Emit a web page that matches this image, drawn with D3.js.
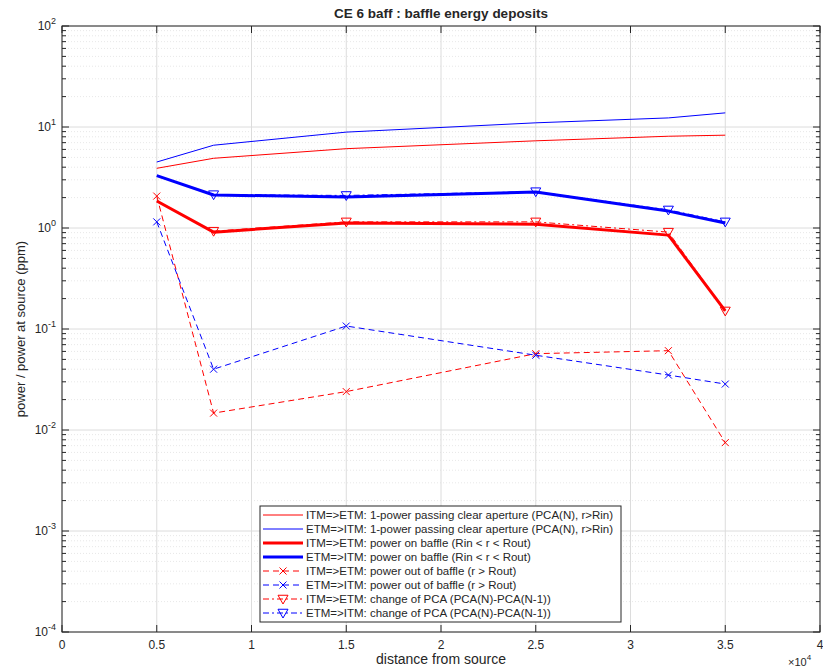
<!DOCTYPE html>
<html>
<head>
<meta charset="utf-8">
<script src="https://cdn.jsdelivr.net/npm/d3@7"></script>
<style>
  body { margin: 0; background: #fff; }
  text { font-family: "Liberation Sans", Arial, Helvetica, sans-serif; fill: #262626; }
</style>
</head>
<body>
<svg id="chart" width="823" height="668"></svg>
<script>
// distances (m) and per-series values (ppm)
const distance = [ 5000, 8000, 15000, 25000, 32000, 35000 ];
const distanceDelta = [ 8000, 15000, 25000, 32000, 35000 ];

const itmPca = [ 3.9, 4.9, 6.1, 7.3, 8.1, 8.3 ];
const etmPca = [ 4.5, 6.6, 8.9, 11.0, 12.3, 13.8 ];
const itmOn = [ 1.85, 0.91, 1.12, 1.09, 0.85, 0.151 ];
const etmOn = [ 3.3, 2.12, 2.03, 2.27, 1.47, 1.12 ];
const itmOut = [ 2.07, 0.0147, 0.024, 0.057, 0.061, 0.0075 ];
const etmOut = [ 1.15, 0.040, 0.107, 0.055, 0.035, 0.0285 ];
const itmDelta = [ 0.93, 1.15, 1.15, 0.91, 0.151 ];
const etmDelta = [ 2.14, 2.1, 2.29, 1.51, 1.15 ];

const xTicks = [ 0, 5000, 10000, 15000, 20000, 25000, 30000, 35000, 40000 ];
const yTicks = [ 1e-4, 1e-3, 1e-2, 1e-1, 1, 10, 100 ];

const labels = [
  "ITM=>ETM: 1-power passing clear aperture (PCA(N), r>Rin)",
  "ETM=>ITM: 1-power passing clear aperture (PCA(N), r>Rin)",
  "ITM=>ETM: power on baffle (Rin < r < Rout)",
  "ETM=>ITM: power on baffle (Rin < r < Rout)",
  "ITM=>ETM: power out of baffle (r > Rout)",
  "ETM=>ITM: power out of baffle (r > Rout)",
  "ITM=>ETM: change of PCA (PCA(N)-PCA(N-1))",
  "ETM=>ITM: change of PCA (PCA(N)-PCA(N-1))",
];

const RED = "#ff0000";
const BLUE = "#0000ff";

const series = [
  { xs: distance, ys: itmPca, color: RED, width: 1, dash: null, marker: null },
  { xs: distance, ys: etmPca, color: BLUE, width: 1, dash: null, marker: null },
  { xs: distance, ys: itmOn, color: RED, width: 3, dash: null, marker: null },
  { xs: distance, ys: etmOn, color: BLUE, width: 3, dash: null, marker: null },
  { xs: distance, ys: itmOut, color: RED, width: 1, dash: "6,4", marker: "x" },
  { xs: distance, ys: etmOut, color: BLUE, width: 1, dash: "6,4", marker: "x" },
  { xs: distanceDelta, ys: itmDelta, color: RED, width: 1, dash: "6,3,2,3", marker: "v" },
  { xs: distanceDelta, ys: etmDelta, color: BLUE, width: 1, dash: "6,3,2,3", marker: "v" },
];

const svg = d3.select( "#chart" );
const MARGINS = { top: 26, right: 3, bottom: 36, left: 62 };
const WIDTH = 823;
const HEIGHT = 668;
const x0 = MARGINS.left, x1 = WIDTH - MARGINS.right;
const y0 = HEIGHT - MARGINS.bottom, y1 = MARGINS.top;

const xScale = d3.scaleLinear().domain( [ 0, 40000 ] ).range( [ x0, x1 ] );
const yScale = d3.scaleLog().domain( [ 1e-4, 1e2 ] ).range( [ y0, y1 ] );

// minor y values
const yMinor = [];
for ( let e = -4; e < 2; e++ ) {
  for ( let m = 2; m <= 9; m++ ) yMinor.push( m * Math.pow( 10, e ) );
}

const grid = svg.append( "g" );
grid.selectAll( ".ymin" ).data( yMinor ).enter().append( "line" )
  .attr( "x1", x0 ).attr( "x2", x1 )
  .attr( "y1", d => yScale( d ) ).attr( "y2", d => yScale( d ) )
  .attr( "stroke", "#d6d6d6" ).attr( "stroke-width", 0.6 ).attr( "stroke-dasharray", "1,2" );
grid.selectAll( ".ymaj" ).data( yTicks ).enter().append( "line" )
  .attr( "x1", x0 ).attr( "x2", x1 )
  .attr( "y1", d => yScale( d ) ).attr( "y2", d => yScale( d ) )
  .attr( "stroke", "#dcdcdc" ).attr( "stroke-width", 1 );
grid.selectAll( ".xmaj" ).data( xTicks ).enter().append( "line" )
  .attr( "x1", d => xScale( d ) ).attr( "x2", d => xScale( d ) )
  .attr( "y1", y0 ).attr( "y2", y1 )
  .attr( "stroke", "#dcdcdc" ).attr( "stroke-width", 1 );

// lines
const lineFunc = d3.line().x( d => xScale( d[0] ) ).y( d => yScale( d[1] ) );
const plot = svg.append( "g" );
series.forEach( s => {
  const pts = s.xs.map( ( x, i ) => [ x, s.ys[i] ] );
  plot.append( "path" )
    .attr( "d", lineFunc( pts ) )
    .attr( "fill", "none" )
    .attr( "stroke", s.color )
    .attr( "stroke-width", s.width )
    .attr( "stroke-dasharray", s.dash )
    .attr( "stroke-linejoin", "round" );
  if ( s.marker ) {
    pts.forEach( p => drawMarker( plot, s.marker, xScale( p[0] ), yScale( p[1] ), s.color ) );
  }
} );

function drawMarker( g, type, cx, cy, color ) {
  if ( type === "x" ) {
    const r = 3.5;
    g.append( "path" )
      .attr( "d", `M${cx - r},${cy - r}L${cx + r},${cy + r}M${cx - r},${cy + r}L${cx + r},${cy - r}` )
      .attr( "stroke", color ).attr( "stroke-width", 1 ).attr( "fill", "none" );
  } else {
    const r = 5;
    g.append( "path" )
      .attr( "d", `M${cx - r},${cy - r * 0.75}L${cx + r},${cy - r * 0.75}L${cx},${cy + r}Z` )
      .attr( "stroke", color ).attr( "stroke-width", 1 ).attr( "fill", "none" );
  }
}

// axes box and ticks
const axes = svg.append( "g" ).attr( "stroke", "#262626" ).attr( "stroke-width", 1 );
axes.append( "rect" )
  .attr( "x", x0 ).attr( "y", y1 ).attr( "width", x1 - x0 ).attr( "height", y0 - y1 )
  .attr( "fill", "none" );
xTicks.forEach( t => {
  const x = xScale( t );
  axes.append( "line" ).attr( "x1", x ).attr( "x2", x ).attr( "y1", y0 ).attr( "y2", y0 - 7 );
  axes.append( "line" ).attr( "x1", x ).attr( "x2", x ).attr( "y1", y1 ).attr( "y2", y1 + 7 );
} );
yTicks.forEach( t => {
  const y = yScale( t );
  axes.append( "line" ).attr( "x1", x0 ).attr( "x2", x0 + 7 ).attr( "y1", y ).attr( "y2", y );
  axes.append( "line" ).attr( "x1", x1 ).attr( "x2", x1 - 7 ).attr( "y1", y ).attr( "y2", y );
} );
yMinor.forEach( t => {
  const y = yScale( t );
  axes.append( "line" ).attr( "x1", x0 ).attr( "x2", x0 + 4 ).attr( "y1", y ).attr( "y2", y );
  axes.append( "line" ).attr( "x1", x1 ).attr( "x2", x1 - 4 ).attr( "y1", y ).attr( "y2", y );
} );

// tick labels
svg.selectAll( ".xlab" ).data( xTicks ).enter().append( "text" )
  .attr( "x", d => xScale( d ) ).attr( "y", y0 + 17 )
  .attr( "text-anchor", "middle" ).attr( "font-size", 12 )
  .text( d => String( d / 1e4 ) );

yTicks.forEach( t => {
  const e = Math.round( Math.log10( t ) );
  const txt = svg.append( "text" )
    .attr( "x", x0 - 6 ).attr( "y", yScale( t ) + 4 )
    .attr( "text-anchor", "end" ).attr( "font-size", 12 );
  txt.append( "tspan" ).text( "10" );
  txt.append( "tspan" ).attr( "dy", -6 ).attr( "font-size", 9 ).text( String( e ) );
} );

// x10^4 exponent
const ex = svg.append( "text" ).attr( "x", 788 ).attr( "y", 666 ).attr( "font-size", 11 );
ex.append( "tspan" ).text( "\u00d710" );
ex.append( "tspan" ).attr( "dy", -6 ).attr( "font-size", 8 ).text( "4" );

// titles
svg.append( "text" ).attr( "x", ( x0 + x1 ) / 2 ).attr( "y", 18 )
  .attr( "text-anchor", "middle" ).attr( "font-size", 13.5 ).attr( "font-weight", "bold" )
  .attr( "fill", "#000" )
  .text( "CE 6 baff : baffle energy deposits" );
svg.append( "text" ).attr( "x", ( x0 + x1 ) / 2 ).attr( "y", 664 )
  .attr( "text-anchor", "middle" ).attr( "font-size", 14 )
  .text( "distance from source" );
svg.append( "text" )
  .attr( "transform", `translate(25,${( y0 + y1 ) / 2}) rotate(-90)` )
  .attr( "text-anchor", "middle" ).attr( "font-size", 13 )
  .text( "power / power at source (ppm)" );

// legend
const lg = svg.append( "g" ).attr( "transform", "translate(260,506)" );
lg.append( "rect" ).attr( "width", 361 ).attr( "height", 116 )
  .attr( "fill", "#fff" ).attr( "stroke", "#262626" ).attr( "stroke-width", 1 );
series.forEach( ( s, i ) => {
  const y = 9 + i * 14;
  lg.append( "line" ).attr( "x1", 3 ).attr( "x2", 43 ).attr( "y1", y ).attr( "y2", y )
    .attr( "stroke", s.color ).attr( "stroke-width", s.width ).attr( "stroke-dasharray", s.dash );
  if ( s.marker ) drawMarker( lg, s.marker, 23, y, s.color );
  lg.append( "text" ).attr( "x", 46 ).attr( "y", y + 4 ).attr( "font-size", 11.5 )
    .text( labels[i] );
} );
</script>
</body>
</html>
